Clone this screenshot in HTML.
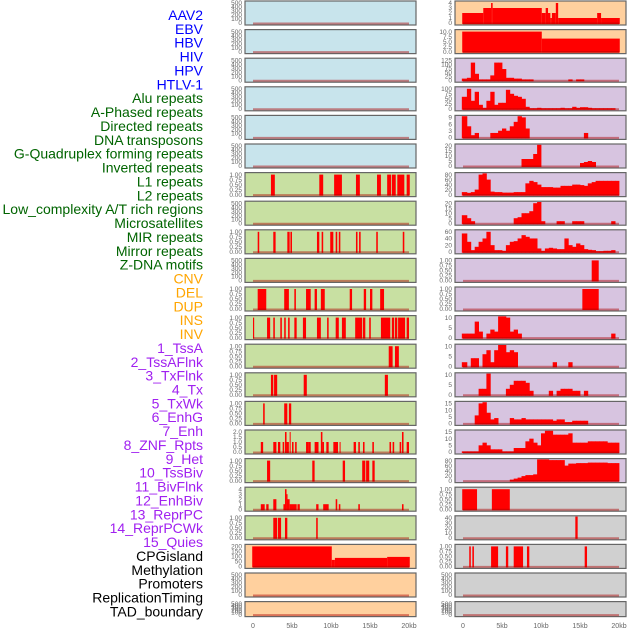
<!DOCTYPE html>
<html><head><meta charset="utf-8">
<style>
body{margin:0;background:#fff;width:630px;height:630px;overflow:hidden}
svg{display:block}
.lab{font-family:"Liberation Sans",sans-serif;font-size:14px}
.tk{font-family:"Liberation Sans",sans-serif;font-size:6.5px;fill:#666}
</style></head><body>
<svg id="c" width="630" height="630"></svg>
<script>
// ---- data: intervals [startKb, endKb, value] ----
const L0=[],L1=[],L2=[],L3=[],L4=[],L5=[],L7=[],L9=[],L20=[],L21=[];
const L6=[[2.3,2.8,1],[8.5,9.0,1],[10.4,11.4,1],[13.2,13.7,1],[15.9,16.4,1],[17.2,17.7,1],[17.8,18.3,1],[18.5,19.4,1],[19.7,20.1,1]];
const L8=[[0.6,0.8,1],[2.6,2.9,1],[4.4,4.7,1],[4.8,5.0,1],[8.2,8.5,1],[8.8,9.0,1],[9.9,10.3,1],[10.6,10.8,1],[11.0,11.2,1],[13.2,13.4,1],[13.6,13.8,1],[15.8,16.0,1],[19.2,19.4,1]];
const L10=[[0.6,1.7,1],[4.0,4.6,1],[5.3,5.5,1],[6.8,7.4,1],[7.9,8.2,1],[8.7,9.2,1],[12.4,12.7,1],[14.2,14.5,1],[15.0,15.3,1],[16.3,16.8,1]];
const L11=[[0,0.15,1],[1.8,2.2,1],[2.6,2.8,1],[3.5,3.7,1],[4.0,4.2,1],[4.5,4.7,1],[5.3,5.6,1],[6.4,6.8,1],[8.2,8.7,1],[9.5,9.7,1],[10.6,11.0,1],[11.4,11.9,1],[13.1,14.0,1],[14.1,14.4,1],[14.9,15.1,1],[16.4,17.6,1],[17.8,18.1,1],[18.2,18.5,1],[18.6,19.5,1],[19.7,20.0,1]];
const L12=[[17.4,17.9,1],[18.2,18.7,1]];
const L13=[[2.3,2.6,1],[2.7,3.1,1],[6.5,6.9,1],[16.9,17.3,1]];
const L14=[[1.3,1.5,1],[4.0,4.4,1],[4.6,4.9,1]];
const L15=[[1.0,1.3,1],[2.6,3.0,1],[3.2,3.5,1],[3.8,4.0,1],[4.1,4.3,2],[4.3,4.6,1],[4.7,4.8,2],[5.0,5.2,1],[5.4,5.6,1],[6.8,7.1,1],[7.1,7.4,1],[7.9,8.4,1],[8.7,8.9,2],[8.9,9.1,1],[9.4,9.7,1],[10.3,10.9,1],[11.1,11.2,1],[12.9,13.2,1],[13.5,13.7,1],[14.1,14.3,1],[15.3,15.5,1],[17.5,17.7,1],[17.9,18.1,1],[18.8,19.0,1],[19.1,19.3,2],[19.7,20.0,1]];
const L16=[[1.8,2.2,1],[7.6,7.9,1],[11.5,11.8,1],[14.0,14.4,1],[14.5,14.9,1],[15.3,15.6,1]];
const L17=[[1.0,1.5,1],[1.7,2.0,1],[2.6,3.0,2],[3.9,4.1,1],[4.1,4.3,4],[4.3,4.4,3],[4.4,4.7,2],[4.7,5.6,1],[5.7,6.0,1],[8.1,8.4,1],[9.0,9.7,1],[10.6,10.8,2],[11.0,11.2,1],[13.5,13.7,1],[19.1,19.3,1]];
const L18=[[2.6,3.1,1],[3.2,3.6,1],[4.1,4.4,1],[8.1,8.3,1]];
const L19=[[-0.1,10.1,200],[10.1,10.5,65],[10.5,17.2,85],[17.2,20.1,95]];
const R0=[[-0.1,2.6,2],[2.6,3.6,3],[3.6,3.8,4],[3.8,10.1,3],[10.1,10.6,2],[10.6,10.9,3],[10.9,11.2,2],[11.2,11.4,1],[11.4,11.9,2],[11.9,12.2,4],[12.2,17.2,1],[17.2,17.7,2],[17.7,20.1,1]];
const R1=[[-0.1,10.1,10],[10.1,20.1,6.5]];
const R9=[[16.5,17.4,1]];
const R10=[[15.3,17.4,1]];
const R17=[[-0.1,1.8,1],[3.7,6.0,1]];
const R18=[[14.4,14.7,45]];
const R19=[[0.8,1.0,1],[1.2,1.4,1],[3.6,4.5,1],[5.5,5.8,1],[6.5,7.7,1],[8.2,8.5,1],[15.6,15.9,1]];
const R20=[],R21=[];
// ---- data: 0.5kb bins (40 bins over 0-20kb) ----
const R2=[10,15,110,40,5,5,5,30,110,110,70,15,15,10,10,5,5,5,0,0,0,0,0,0,0,0,0,5,0,5,5,0,0,0,0,0,0,0,0,0];
const R3=[60,100,40,85,20,5,40,85,20,30,30,95,75,65,60,50,10,3,3,5,3,3,3,3,3,5,3,3,10,5,8,8,5,3,3,3,3,3,3,0];
const R4=[11,5,1,2,0,0,0,2,2,3,4,3,5,7,10,9,4,0,0,0,0,0,0,0,0,0,0,0,0,0,0,2,0,0,0,0,0,0,0,0];
const R5=[0,0,0,0,0,0,0,0,0,0,0,0,0,0,0,7,7,7,12,22,0,0,0,0,0,0,0,0,0,0,3,4,5,4,0,0,0,0,0,0];
const R6=[10,7,10,20,80,85,60,12,10,10,8,8,8,10,10,10,45,55,50,40,30,30,30,28,28,35,35,35,40,40,38,35,45,50,55,55,55,55,55,55];
const R7=[8,5,2,0,0,0,0,0,0,0,0,0,0,5,6,10,10,12,20,24,2,0,0,0,2,2,0,0,2,2,2,0,0,0,0,0,0,0,2,0];
const R8=[55,30,5,15,30,40,60,20,5,5,3,20,30,32,40,50,45,40,40,10,3,10,12,10,8,8,40,20,15,25,20,8,6,5,2,2,3,3,5,0];
const R11=[2,2,2,8,3,0,2,4,3,12,14,10,3,4,2,0,0,0,0,0,0,0,0,0,0,0,0,0,0,0,0,0,0,0,0,0,0,0,2,0];
const R12=[2,0,4,4,0,6,8,2,8,13,12,7,8,7,0,0,0,0,0,0,0,0,0,2,0,0,0,2,0,0,0,0,0,0,0,0,0,0,0,0];
const R13=[0,0,0,0,3,3,12,0,0,0,0,3,5,7,7,7,6,2,0,0,0,0,2,0,2,3,3,3,2,2,0,2,0,0,0,0,0,0,0,0];
const R14=[0,0,0,6,15,17,8,3,4,0,0,0,4,3,3,4,3,3,3,3,3,3,3,2,3,3,1,1,2,2,2,2,0,0,0,0,0,0,0,0];
const R15=[0.5,0.5,0.5,0.5,5,7,5,2,2,2,0.5,0.5,0.5,3,3,3,8,10,7,5,14,17,17,13,13,13,13,14,7,7,7,7,8,8,8,8,8,7,7,7];
const R16=[0,0,0,0,0,0,0,0,0,0,0,0,4,8,12,18,22,22,25,85,85,85,82,82,82,82,60,68,68,70,70,70,72,72,72,72,72,70,70,70];
// ---- labels ----
const labels=["AAV2","EBV","HBV","HIV","HPV","HTLV-1","Alu repeats","A-Phased repeats","Directed repeats","DNA transposons","G-Quadruplex forming repeats","Inverted repeats","L1 repeats","L2 repeats","Low_complexity A/T rich regions","Microsatellites","MIR repeats","Mirror repeats","Z-DNA motifs","CNV","DEL","DUP","INS","INV","1_TssA","2_TssAFlnk","3_TxFlnk","4_Tx","5_TxWk","6_EnhG","7_Enh","8_ZNF_Rpts","9_Het","10_TssBiv","11_BivFlnk","12_EnhBiv","13_ReprPC","14_ReprPCWk","15_Quies","CPGisland","Methylation","Promoters","ReplicationTiming","TAD_boundary"];
const xTicks=[0,5,10,15,20];
const xTickLabels=["0","5kb","10kb","15kb","20kb"];

const NS="http://www.w3.org/2000/svg";
const svg=document.getElementById('c');
function mk(t,a,p){const e=document.createElementNS(NS,t);for(const k in a)e.setAttribute(k,a[k]);(p||svg).appendChild(e);return e;}

const BLANK=[0,100,200,300,400,500], BIN=[0,0.25,0.5,0.75,1];
const BINL=["0.00","0.25","0.50","0.75","1.00"];
const BLUE="#c8e4ec",GREEN="#c8e0a2",ORANGE="#ffd09e",PURPLE="#d7c4e0",GRAY="#d0d0d0";
function cfg(data,bins,ticks,tl,color){return {data,bins,ticks,tl:tl||ticks.map(String),color};}
const left=[
cfg(L0,0,BLANK,0,BLUE),cfg(L1,0,BLANK,0,BLUE),cfg(L2,0,BLANK,0,BLUE),cfg(L3,0,BLANK,0,BLUE),cfg(L4,0,BLANK,0,BLUE),cfg(L5,0,BLANK,0,BLUE),
cfg(L6,0,BIN,BINL,GREEN),cfg(L7,0,BLANK,0,GREEN),cfg(L8,0,BIN,BINL,GREEN),cfg(L9,0,BLANK,0,GREEN),cfg(L10,0,BIN,BINL,GREEN),cfg(L11,0,BIN,BINL,GREEN),
cfg(L12,0,BIN,BINL,GREEN),cfg(L13,0,BIN,BINL,GREEN),cfg(L14,0,BIN,BINL,GREEN),cfg(L15,0,[0,0.5,1,1.5,2],["0.0","0.5","1.0","1.5","2.0"],GREEN),
cfg(L16,0,BIN,BINL,GREEN),cfg(L17,0,[0,1,2,3,4],0,GREEN),cfg(L18,0,BIN,BINL,GREEN),cfg(L19,0,[0,50,100,150,200],0,ORANGE),
cfg(L20,0,BLANK,0,ORANGE),cfg(L21,0,BLANK,0,ORANGE)];
const right=[
cfg(R0,0,[0,1,2,3,4],0,ORANGE),cfg(R1,0,[0,2.5,5,7.5,10],["0.0","2.5","5.0","7.5","10.0"],ORANGE),
cfg(R2,1,[0,25,50,75,100,125],0,PURPLE),cfg(R3,1,[0,25,50,75,100],0,PURPLE),cfg(R4,1,[0,3,6,9],0,PURPLE),cfg(R5,1,[0,5,10,15,20],0,PURPLE),
cfg(R6,1,[0,20,40,60,80],0,PURPLE),cfg(R7,1,[0,5,10,15,20],0,PURPLE),cfg(R8,1,[0,20,40,60],0,PURPLE),cfg(R9,0,BIN,BINL,PURPLE),cfg(R10,0,BIN,BINL,PURPLE),
cfg(R11,1,[0,5,10],0,PURPLE),cfg(R12,1,[0,5,10],0,PURPLE),cfg(R13,1,[0,5,10],0,PURPLE),cfg(R14,1,[0,5,10,15],0,PURPLE),cfg(R15,1,[0,5,10,15],0,PURPLE),
cfg(R16,1,[0,20,40,60,80],0,PURPLE),cfg(R17,0,BIN,BINL,GRAY),cfg(R18,0,[0,10,20,30,40],0,GRAY),cfg(R19,0,BIN,BINL,GRAY),cfg(R20,0,BLANK,0,GRAY),cfg(R21,0,BLANK,0,GRAY)];

// labels
labels.forEach((t,i)=>{
  let col=i<6?"#0000ff":i<19?"#006400":i<24?"#ffa500":i<39?"#a020f0":"#000";
  const e=mk('text',{x:203,y:20+i*13.87,'text-anchor':'end',fill:col,class:'lab'});
  e.textContent=t;
  
  
});

function panel(p,colX,i,side){
  const top=1+i*28.6, h=(i===21?15:24), px=colX, pw=171;
  const g=mk('g',{});
  
  
  mk('rect',{x:px,y:top,width:pw,height:h,fill:p.color,stroke:'#666','stroke-width':1.2},g);
  const xs=kb=>px+8+kb*7.8;
  const ymax=p.ticks[p.ticks.length-1];
  const y0=top+h-2, yr=h-4;
  const ys=v=>y0-Math.min(v,ymax*1.06)/ymax*yr;
  p.ticks.forEach((t,k)=>{
    const e=mk('text',{x:px-3,y:ys(t)+2.2,'text-anchor':'end',class:'tk'},g);
    e.textContent=p.tl[k];
    
    
  });
  const segs=p.bins?p.data.map((v,k)=>[k*0.5-(k===0?0.15:0),(k+1)*0.5,v]):p.data;
  segs.forEach(s=>{
    if(!s[2])return;
    const x1=xs(s[0]),x2=xs(s[1]);
    const r=mk('rect',{x:x1,y:ys(s[2]),width:Math.max(1,x2-x1+(p.bins?0.4:0)),height:y0-ys(s[2])+1,fill:'#ff0000'},g);
    
    
  });
  const bl=mk('line',{x1:xs(0),x2:xs(20),y1:y0+0.5,y2:y0+0.5,stroke:'rgba(170,0,0,0.45)','stroke-width':2},g);
  
  
}
left.forEach((p,i)=>panel(p,245,i,'left'));
right.forEach((p,i)=>panel(p,455,i,'right'));
[245,455].forEach(cx=>{
  xTicks.forEach((t,k)=>{
    const e=mk('text',{x:cx+8+t*7.8,y:628,'text-anchor':'middle',class:'tk',style:'font-size:7px'});
    e.textContent=xTickLabels[k];
    
    
  });
});
</script>
</body></html>
